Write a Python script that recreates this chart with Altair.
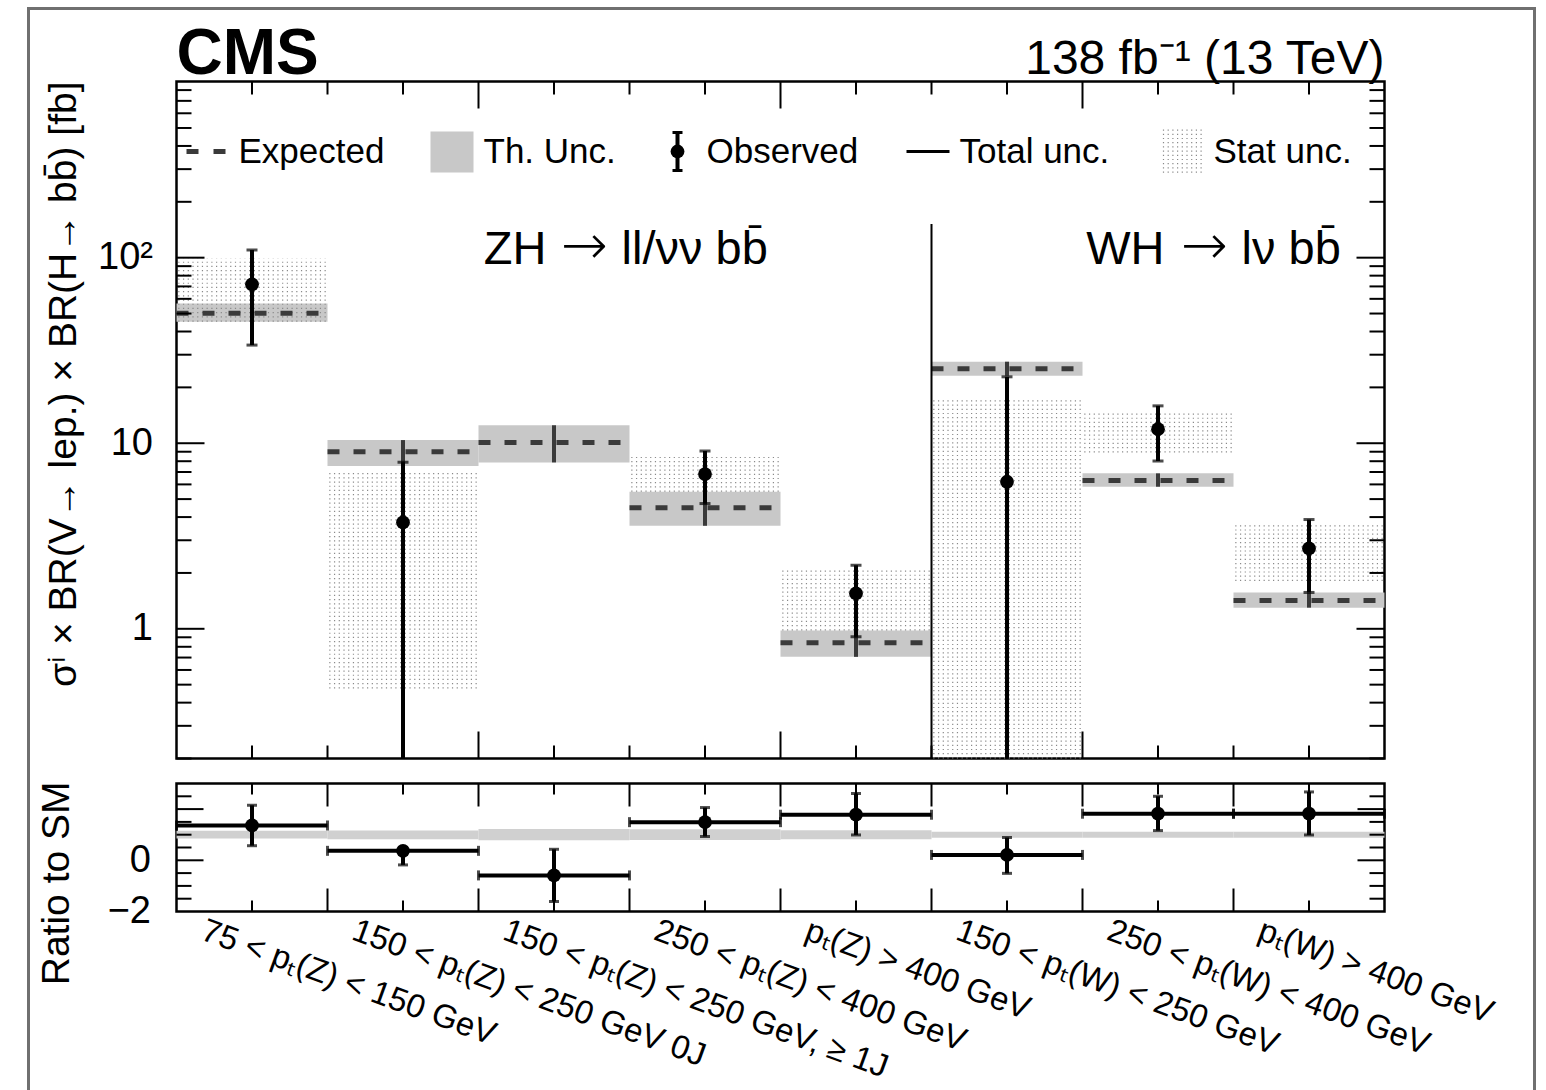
import altair as alt
import pandas as pd

FONT = "Liberation Sans"
SYM_FONT = "DejaVu Sans"
W, H_TOP, H_RAT = 1208, 677, 128

# ---- bins -------------------------------------------------------------
bin_lo = [0, 1, 2, 3, 4, 5, 6, 7]
bin_hi = [1, 2, 3, 4, 5, 6, 7, 8]
bin_c = [0.5, 1.5, 2.5, 3.5, 4.5, 5.5, 6.5, 7.5]
bin_labels = [
    "75 < pₜ(Z) < 150 GeV",
    "150 < pₜ(Z) < 250 GeV 0J",
    "150 < pₜ(Z) < 250 GeV, ≥ 1J",
    "250 < pₜ(Z) < 400 GeV",
    "pₜ(Z) > 400 GeV",
    "150 < pₜ(W) < 250 GeV",
    "250 < pₜ(W) < 400 GeV",
    "pₜ(W) > 400 GeV",
]

# ---- cross sections [fb] ---------------------------------------------
expected = [50.1, 9.0, 10.1, 4.49, 0.84, 25.2, 6.3, 1.42]
th_lo = [45.2, 7.53, 7.88, 3.59, 0.706, 23.1, 5.83, 1.30]
th_hi = [56.7, 10.4, 12.5, 5.48, 0.98, 27.5, 6.88, 1.57]
observed = [71.8, 3.74, None, 6.82, 1.55, 6.2, 11.9, 2.71]
tot_lo = [33.8, 0.2, None, 4.73, 0.906, 0.2, 8.02, 1.57]
tot_hi = [110.0, 7.9, None, 9.08, 2.20, 22.8, 15.9, 3.88]
stat_lo = [45.2, 0.477, None, 5.48, 0.98, 0.2, 8.92, 1.81]
stat_hi = [99.0, 7.17, None, 8.46, 2.07, 17.4, 14.9, 3.62]

# ---- ratio to SM -------------------------------------------------------
ratio = [1.36, 0.37, -0.59, 1.49, 1.78, 0.21, 1.82, 1.82]
ratio_lo = [0.57, -0.18, -1.61, 0.93, 0.99, -0.51, 1.16, 0.99]
ratio_hi = [2.15, 0.50, 0.43, 2.06, 2.61, 0.89, 2.50, 2.67]
band_lo = [0.85, 0.82, 0.78, 0.79, 0.82, 0.88, 0.88, 0.88]
band_hi = [1.15, 1.16, 1.22, 1.21, 1.17, 1.12, 1.12, 1.12]

df = pd.DataFrame({
    "lo": bin_lo, "hi": bin_hi, "c": bin_c, "label": bin_labels,
    "exp": expected, "th_lo": th_lo, "th_hi": th_hi,
    "obs": observed, "tot_lo": tot_lo, "tot_hi": tot_hi,
    "stat_lo": stat_lo, "stat_hi": stat_hi,
    "r": ratio, "r_lo": ratio_lo, "r_hi": ratio_hi,
    "b_lo": band_lo, "b_hi": band_hi,
})

GRAY_TH = "#c8c8c8"
GRAY_EXP = "#3a3a3a"
DOT = "#8a8a8a"
DOT_COLS = 32          # stipple columns per bin
DOT_DASH = [1.2, 3.0]  # stipple rows

xs = alt.Scale(domain=[0, 8], nice=False, zero=False)
ys = alt.Scale(type="log", domain=[0.2, 890], nice=False)
yr = alt.Scale(domain=[-2, 3], nice=False, zero=False)

y_axis_top = alt.Axis(values=[1, 10, 100], labelExpr="datum.value == 100 ? '10²' : datum.label",
                      format="~g", ticks=False, domain=False, grid=False, labelFontSize=38,
                      labelPadding=24, labelColor="black", labelFont=FONT, labelFlush=False, title="")
y_axis_rat = alt.Axis(values=[-2, 0], labelExpr="datum.value == -2 ? '−2' : '0'",
                      ticks=False, domain=False, grid=False, labelFontSize=38,
                      labelPadding=26, labelColor="black", labelFont=FONT, labelFlush=False, title="")


def X(f):
    return alt.X(f, type="quantitative", scale=xs, axis=None)


def YT(f):
    return alt.Y(f, type="quantitative", scale=ys, axis=y_axis_top)


def YR(f):
    return alt.Y(f, type="quantitative", scale=yr, axis=y_axis_rat)


one = [{"k": 1}]


def txt(text, x, y, size, font=FONT, **kw):
    return alt.Chart(alt.Data(values=[{"t": text}])).mark_text(
        font=font, fontSize=size, color="black", **kw
    ).encode(text="t:N", x=alt.value(x), y=alt.value(y))


base = alt.Chart(df)
valid = base.transform_filter("isValid(datum.obs)")

# ---------------- upper panel ----------------
th_band = base.mark_rect(color=GRAY_TH).encode(x=X("lo"), x2="hi", y=YT("th_lo"), y2="th_hi")
# stippled statistical band: columns of dotted rules across each bin
stat_box = (
    valid.transform_calculate(k=f"sequence(0, {DOT_COLS})")
    .transform_flatten(["k"])
    .transform_calculate(xk=f"datum.lo + (datum.k + 0.5) / {DOT_COLS}")
    .mark_rule(strokeWidth=1.2, strokeDash=DOT_DASH, color=DOT, strokeCap="butt")
    .encode(x=X("xk:Q"), y=YT("stat_lo"), y2="stat_hi")
)
exp_line = base.mark_rule(strokeDash=[12, 14], strokeWidth=5, color=GRAY_EXP, strokeCap="butt").encode(
    x=X("lo"), x2="hi", y=YT("exp"))
exp_err = base.mark_rule(strokeWidth=4, color=GRAY_EXP).encode(x=X("c"), y=YT("th_lo"), y2="th_hi")
obs_err = valid.mark_rule(strokeWidth=4, color="black").encode(x=X("c"), y=YT("tot_lo"), y2="tot_hi")
cap_hi = valid.mark_tick(orient="horizontal", size=11, thickness=3, color="black").encode(x=X("c"), y=YT("tot_hi"))
cap_lo = valid.transform_filter("datum.tot_lo > 0.21").mark_tick(
    orient="horizontal", size=11, thickness=3, color="black").encode(x=X("c"), y=YT("tot_lo"))
obs_pt = valid.mark_circle(size=190, color="black", opacity=1).encode(x=X("c"), y=YT("obs"))

separator = alt.Chart(alt.Data(values=[{"x": 5, "y1": 152, "y2": 0.2}])).mark_rule(
    strokeWidth=2, color="black").encode(x=X("x"), y=YT("y1"), y2="y2")

# inner tick marks of the upper frame
xt = [{"v": i * 0.5} for i in range(1, 16)]
xt_long = [d for d in xt if d["v"] in (2, 4, 6)]
xt_short = [d for d in xt if d["v"] not in (2, 4, 6)]
yt_major = [{"v": v} for v in (1, 10, 100)]
yt_minor = [{"v": round(k * 10 ** n, 6)} for n in range(-1, 3) for k in range(2, 10)
            if 0.2 <= k * 10 ** n <= 890]


def xticks(vals, length, height):
    d = alt.Data(values=vals)
    bot = alt.Chart(d).mark_rule(color="black", strokeWidth=2).encode(
        x=X("v:Q"), y=alt.value(height), y2=alt.value(height - length))
    top = alt.Chart(d).mark_rule(color="black", strokeWidth=2).encode(
        x=X("v:Q"), y=alt.value(0), y2=alt.value(length))
    return [bot, top]


def yticks(vals, length, yenc):
    d = alt.Data(values=vals)
    left = alt.Chart(d).mark_rule(color="black", strokeWidth=2).encode(
        y=yenc("v:Q"), x=alt.value(0), x2=alt.value(length))
    right = alt.Chart(d).mark_rule(color="black", strokeWidth=2).encode(
        y=yenc("v:Q"), x=alt.value(W), x2=alt.value(W - length))
    return [left, right]


top_ticks = (xticks(xt_long, 27, H_TOP) + xticks(xt_short, 13, H_TOP)
             + yticks(yt_major, 28, YT) + yticks(yt_minor, 15, YT))

# legend row
leg_dash = alt.Chart(alt.Data(values=one)).mark_rule(
    strokeDash=[12, 15], strokeWidth=5, color=GRAY_EXP, strokeCap="butt").encode(
    x=alt.value(10), x2=alt.value(52), y=alt.value(70))
leg_th = alt.Chart(alt.Data(values=one)).mark_rect(color=GRAY_TH).encode(
    x=alt.value(254), x2=alt.value(297), y=alt.value(50), y2=alt.value(91))
leg_obs_bar = alt.Chart(alt.Data(values=one)).mark_rule(strokeWidth=4, color="black").encode(
    x=alt.value(501), y=alt.value(50), y2=alt.value(90))
leg_obs_cap1 = alt.Chart(alt.Data(values=one)).mark_rule(strokeWidth=3, color="black").encode(
    x=alt.value(496), x2=alt.value(506), y=alt.value(51))
leg_obs_cap2 = alt.Chart(alt.Data(values=one)).mark_rule(strokeWidth=3, color="black").encode(
    x=alt.value(496), x2=alt.value(506), y=alt.value(89))
leg_obs_pt = alt.Chart(alt.Data(values=one)).mark_circle(size=190, color="black", opacity=1).encode(
    x=alt.value(501), y=alt.value(70))
leg_tot = alt.Chart(alt.Data(values=one)).mark_rule(strokeWidth=3, color="black").encode(
    x=alt.value(730), x2=alt.value(773), y=alt.value(70))
leg_stat = [
    alt.Chart(alt.Data(values=one)).mark_rule(
        strokeWidth=1.2, strokeDash=DOT_DASH, color=DOT, strokeCap="butt").encode(
        x=alt.value(987 + 4.7 * k), y=alt.value(48), y2=alt.value(92))
    for k in range(9)
]
leg_texts = [
    txt("Expected", 62, 70, 35, align="left", baseline="middle"),
    txt("Th. Unc.", 307, 70, 35, align="left", baseline="middle"),
    txt("Observed", 530, 70, 35, align="left", baseline="middle"),
    txt("Total unc.", 783, 70, 35, align="left", baseline="middle"),
    txt("Stat unc.", 1037, 70, 35, align="left", baseline="middle"),
]

labels_top = [
    txt("CMS", 0, -8, 64, fontWeight="bold", align="left", baseline="alphabetic"),
    txt("138 fb⁻¹ (13 TeV)", W, -8, 48, align="right", baseline="alphabetic"),
    txt("ZH", 370, 182, 47, align="right", baseline="alphabetic"),
    txt("→", 408, 182, 56, font=SYM_FONT, fontWeight=200, align="center", baseline="alphabetic"),
    txt("ll/νν bb̄", 445, 182, 47, align="left", baseline="alphabetic"),
    txt("WH", 988, 182, 47, align="right", baseline="alphabetic"),
    txt("→", 1028, 182, 56, font=SYM_FONT, fontWeight=200, align="center", baseline="alphabetic"),
    txt("lν bb̄", 1065, 182, 47, align="left", baseline="alphabetic"),
    txt("σⁱ × BR(V→ lep.) × BR(H→ bb̄) [fb]", -113, 0, 39, angle=270, align="right", baseline="middle"),
]

outer_frame = alt.Chart(alt.Data(values=one)).mark_rect(
    fillOpacity=0, stroke="#707070", strokeWidth=3).encode(
    x=alt.value(-148), x2=alt.value(1358), y=alt.value(-73), y2=alt.value(1020))

top = alt.layer(
    th_band, stat_box, exp_line, exp_err, separator, obs_err, cap_hi, cap_lo, obs_pt,
    *top_ticks, leg_dash, leg_th, leg_obs_bar, leg_obs_cap1, leg_obs_cap2, leg_obs_pt,
    leg_tot, *leg_stat, *leg_texts, *labels_top, outer_frame,
).properties(width=W, height=H_TOP)

# ---------------- ratio panel ----------------
r_band = base.mark_rect(color="#d0d0d0").encode(x=X("lo"), x2="hi", y=YR("b_lo"), y2="b_hi")
r_hbar = base.mark_rule(strokeWidth=4, color="black").encode(x=X("lo"), x2="hi", y=YR("r"))
r_hcap_l = base.mark_tick(orient="vertical", size=10, thickness=3, color="black").encode(x=X("lo"), y=YR("r"))
r_hcap_r = base.mark_tick(orient="vertical", size=10, thickness=3, color="black").encode(x=X("hi"), y=YR("r"))
r_vbar = base.mark_rule(strokeWidth=4, color="black").encode(x=X("c"), y=YR("r_lo"), y2="r_hi")
r_vcap_l = base.mark_tick(orient="horizontal", size=10, thickness=3, color="black").encode(x=X("c"), y=YR("r_lo"))
r_vcap_h = base.mark_tick(orient="horizontal", size=10, thickness=3, color="black").encode(x=X("c"), y=YR("r_hi"))
r_pt = base.mark_circle(size=190, color="black", opacity=1).encode(x=X("c"), y=YR("r"))

rxt_long = [{"v": v} for v in range(1, 8)]
rxt_short = [{"v": i + 0.5} for i in range(8)]
ryt_long = [{"v": v} for v in (0, 2)]
ryt_short = [{"v": v} for v in (-1.5, -1, -0.5, 0.5, 1, 1.5, 2.5)]
rat_ticks = (xticks(rxt_long, 23, H_RAT) + xticks(rxt_short, 11, H_RAT)
             + yticks(ryt_long, 27, YR) + yticks(ryt_short, 15, YR))

x_labels = base.transform_calculate(lx="datum.c - 0.29").mark_text(
    font=FONT, fontSize=33, angle=20, align="left", baseline="top", color="black").encode(
    x=X("lx:Q"), y=alt.value(H_RAT + 3), text="label:N")

ratio_title = txt("Ratio to SM", -120, -2, 39, angle=270, align="right", baseline="middle")

bottom = alt.layer(
    r_band, r_hbar, r_hcap_l, r_hcap_r, r_vbar, r_vcap_l, r_vcap_h, r_pt,
    *rat_ticks, x_labels, ratio_title,
).properties(width=W, height=H_RAT)

chart = alt.vconcat(top, bottom, spacing=25, bounds="flush").properties(
    padding={"left": 25.5, "top": 5.5, "right": 0, "bottom": 0},
    background="white",
).configure(font=FONT).configure_view(stroke="black", strokeWidth=2.5)

chart.save("out.html", embed_options={"renderer": "svg", "actions": False})
